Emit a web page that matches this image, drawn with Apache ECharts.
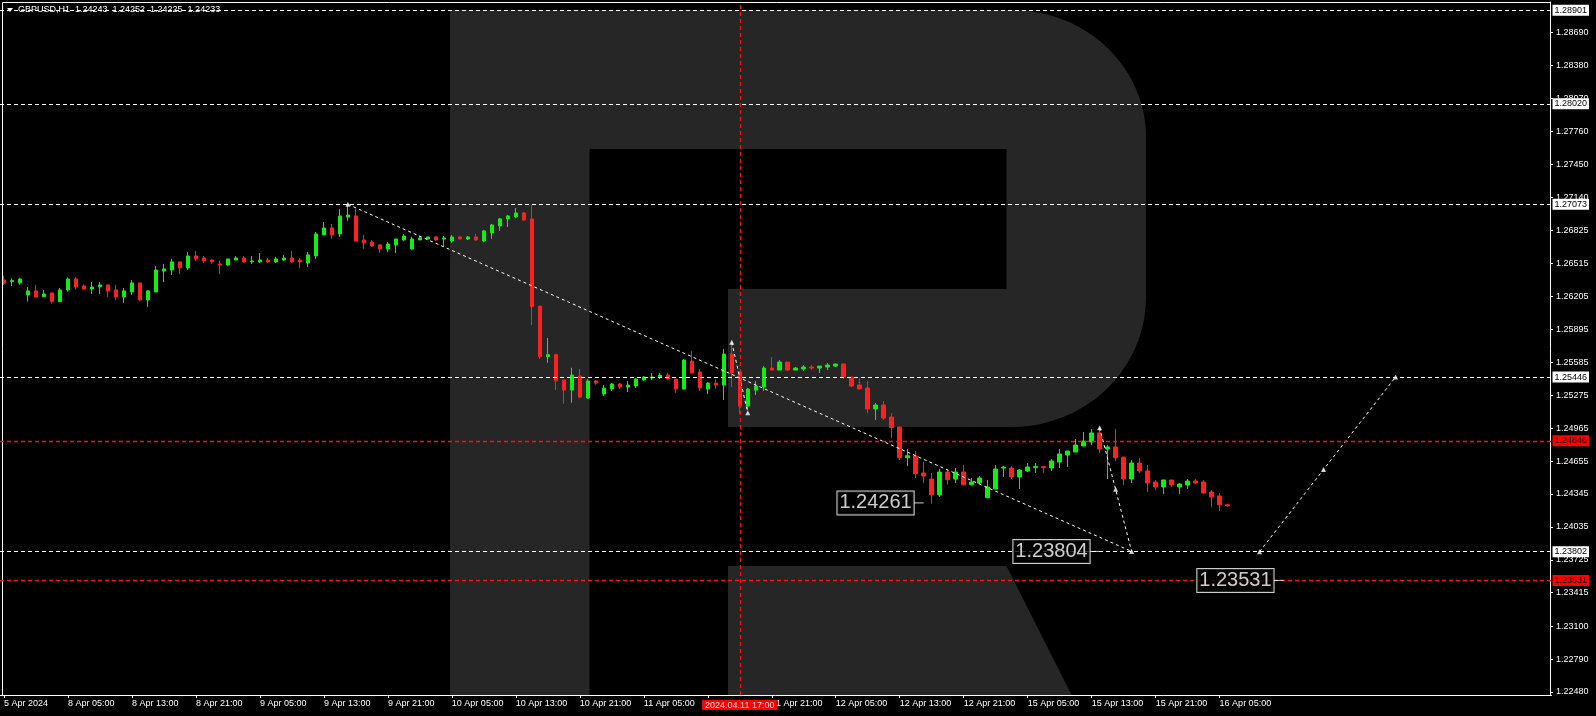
<!DOCTYPE html>
<html><head><meta charset="utf-8">
<script src="https://cdn.jsdelivr.net/npm/echarts@6/dist/echarts.min.js"></script>
<style>html,body{margin:0;padding:0;background:#000;}#c{width:1596px;height:716px;}</style>
</head><body><div id="c"></div>
<script>
// ---------- data ----------
const titleText = 'GBPUSD,H1  1.24243  1.24252  1.24225  1.24233';
const timeLabels = ['5 Apr 2024','8 Apr 05:00','8 Apr 13:00','8 Apr 21:00','9 Apr 05:00','9 Apr 13:00','9 Apr 21:00','10 Apr 05:00','10 Apr 13:00','10 Apr 21:00','11 Apr 05:00','11 Apr 13:00','11 Apr 21:00','12 Apr 05:00','12 Apr 13:00','12 Apr 21:00','15 Apr 05:00','15 Apr 13:00','15 Apr 21:00','16 Apr 05:00'];
const labelStep = 8;
const totalSlots = 194;
// [open, high, low, close] hourly bars
const ohlc = [
[1.26361,1.26399,1.26314,1.26330],[1.26345,1.26377,1.26304,1.26355],[1.26333,1.26380,1.26317,1.26370],[1.26220,1.26295,1.26157,1.26258],
[1.26258,1.26314,1.26191,1.26201],[1.26204,1.26267,1.26198,1.26229],[1.26239,1.26242,1.26138,1.26157],[1.26157,1.26286,1.26151,1.26267],
[1.26267,1.26386,1.26251,1.26370],[1.26370,1.26386,1.26270,1.26295],[1.26304,1.26320,1.26267,1.26276],[1.26276,1.26342,1.26229,1.26295],
[1.26298,1.26342,1.26229,1.26314],[1.26314,1.26314,1.26201,1.26258],[1.26267,1.26314,1.26173,1.26201],[1.26201,1.26286,1.26144,1.26258],
[1.26248,1.26361,1.26220,1.26333],[1.26333,1.26333,1.26163,1.26173],[1.26173,1.26267,1.26107,1.26258],[1.26248,1.26493,1.26248,1.26455],
[1.26446,1.26512,1.26342,1.26465],[1.26455,1.26559,1.26408,1.26531],[1.26531,1.26531,1.26417,1.26474],[1.26474,1.26625,1.26455,1.26587],
[1.26587,1.26634,1.26540,1.26559],[1.26568,1.26587,1.26521,1.26540],[1.26549,1.26559,1.26512,1.26531],[1.26512,1.26540,1.26417,1.26502],
[1.26502,1.26559,1.26493,1.26559],[1.26549,1.26587,1.26549,1.26568],[1.26568,1.26587,1.26521,1.26531],[1.26531,1.26587,1.26512,1.26540],
[1.26531,1.26615,1.26521,1.26549],[1.26549,1.26568,1.26521,1.26531],[1.26531,1.26578,1.26521,1.26559],[1.26549,1.26597,1.26540,1.26568],
[1.26568,1.26634,1.26521,1.26531],[1.26549,1.26568,1.26474,1.26531],[1.26521,1.26625,1.26483,1.26597],[1.26587,1.26813,1.26559,1.26794],
[1.26785,1.26907,1.26785,1.26851],[1.26851,1.26889,1.26747,1.26785],[1.26794,1.27030,1.26766,1.26964],[1.26954,1.27073,1.26917,1.26973],
[1.26964,1.27030,1.26719,1.26728],[1.26738,1.26785,1.26653,1.26710],[1.26719,1.26738,1.26672,1.26681],[1.26691,1.26700,1.26615,1.26653],
[1.26653,1.26719,1.26625,1.26700],[1.26691,1.26747,1.26615,1.26747],[1.26738,1.26794,1.26728,1.26775],[1.26653,1.26766,1.26644,1.26747],
[1.26738,1.26775,1.26738,1.26757],[1.26747,1.26766,1.26747,1.26766],[1.26766,1.26775,1.26728,1.26738],[1.26747,1.26775,1.26681,1.26757],
[1.26728,1.26785,1.26710,1.26766],[1.26766,1.26775,1.26747,1.26747],[1.26747,1.26775,1.26738,1.26766],[1.26766,1.26794,1.26728,1.26738],
[1.26728,1.26832,1.26719,1.26823],[1.26804,1.26889,1.26747,1.26879],[1.26870,1.26945,1.26823,1.26936],[1.26936,1.26973,1.26860,1.26964],
[1.26954,1.27039,1.26945,1.26992],[1.26992,1.27002,1.26917,1.26926],[1.26935,1.27067,1.25936,1.26109],[1.26115,1.26115,1.25616,1.25638],
[1.25638,1.25814,1.25581,1.25657],[1.25657,1.25666,1.25324,1.25412],[1.25418,1.25418,1.25195,1.25324],[1.25324,1.25534,1.25205,1.25465],
[1.25456,1.25522,1.25246,1.25258],[1.25249,1.25428,1.25239,1.25409],[1.25409,1.25421,1.25374,1.25390],[1.25286,1.25371,1.25268,1.25343],
[1.25334,1.25390,1.25315,1.25381],[1.25381,1.25390,1.25334,1.25352],[1.25352,1.25409,1.25305,1.25371],[1.25362,1.25437,1.25343,1.25428],
[1.25418,1.25456,1.25409,1.25447],[1.25437,1.25484,1.25418,1.25447],[1.25447,1.25484,1.25428,1.25465],[1.25465,1.25484,1.25418,1.25428],
[1.25428,1.25428,1.25296,1.25334],[1.25334,1.25616,1.25334,1.25607],[1.25597,1.25691,1.25484,1.25484],[1.25494,1.25522,1.25315,1.25343],
[1.25334,1.25399,1.25286,1.25390],[1.25390,1.25428,1.25334,1.25371],[1.25371,1.25710,1.25230,1.25663],[1.25663,1.25767,1.25352,1.25484],
[1.25494,1.25503,1.25098,1.25173],[1.25173,1.25343,1.25136,1.25334],[1.25324,1.25409,1.25277,1.25362],[1.25352,1.25550,1.25315,1.25531],
[1.25531,1.25635,1.25512,1.25512],[1.25512,1.25607,1.25512,1.25588],[1.25588,1.25588,1.25503,1.25512],[1.25512,1.25541,1.25512,1.25531],
[1.25522,1.25559,1.25503,1.25541],[1.25541,1.25559,1.25512,1.25531],[1.25531,1.25550,1.25484,1.25550],[1.25541,1.25578,1.25512,1.25559],
[1.25550,1.25569,1.25541,1.25569],[1.25569,1.25569,1.25428,1.25447],[1.25447,1.25447,1.25352,1.25362],[1.25371,1.25437,1.25334,1.25334],
[1.25343,1.25409,1.25105,1.25146],[1.25146,1.25202,1.25042,1.25183],[1.25183,1.25221,1.25041,1.25060],[1.25070,1.25108,1.24872,1.24970],
[1.24976,1.24976,1.24665,1.24687],[1.24687,1.24769,1.24609,1.24706],[1.24703,1.24750,1.24496,1.24536],[1.24543,1.24646,1.24448,1.24514],
[1.24486,1.24543,1.24254,1.24339],[1.24336,1.24580,1.24317,1.24552],[1.24552,1.24571,1.24433,1.24480],[1.24486,1.24590,1.24448,1.24552],
[1.24552,1.24618,1.24433,1.24433],[1.24433,1.24496,1.24423,1.24458],[1.24448,1.24514,1.24439,1.24496],[1.24310,1.24477,1.24310,1.24411],
[1.24392,1.24618,1.24392,1.24580],[1.24589,1.24609,1.24505,1.24599],[1.24590,1.24609,1.24486,1.24505],[1.24505,1.24580,1.24392,1.24571],
[1.24561,1.24637,1.24552,1.24599],[1.24593,1.24637,1.24543,1.24603],[1.24603,1.24609,1.24543,1.24593],[1.24590,1.24675,1.24561,1.24656],
[1.24646,1.24769,1.24590,1.24722],[1.24712,1.24750,1.24599,1.24750],[1.24740,1.24863,1.24740,1.24806],[1.24797,1.24929,1.24797,1.24844],
[1.24835,1.24957,1.24806,1.24920],[1.24920,1.24957,1.24731,1.24769],[1.24769,1.24806,1.24486,1.24788],[1.24788,1.24957,1.24656,1.24687],
[1.24693,1.24693,1.24430,1.24486],[1.24486,1.24665,1.24448,1.24637],[1.24637,1.24684,1.24543,1.24562],[1.24562,1.24618,1.24364,1.24448],
[1.24458,1.24477,1.24383,1.24411],[1.24411,1.24477,1.24345,1.24477],[1.24477,1.24477,1.24411,1.24430],[1.24411,1.24448,1.24345,1.24439],
[1.24430,1.24486,1.24392,1.24467],[1.24467,1.24486,1.24439,1.24448],[1.24458,1.24477,1.24354,1.24354],[1.24364,1.24383,1.24223,1.24317],
[1.24326,1.24354,1.24185,1.24243],[1.24243,1.24252,1.24225,1.24233]
];
const yTicks = [1.28690,1.28380,1.28070,1.27760,1.27450,1.27140,1.26825,1.26515,1.26205,1.25895,1.25585,1.25275,1.24965,1.24655,1.24345,1.24035,1.23725,1.23415,1.23100,1.22790,1.22480];
const yMin = 1.224517, yMax = 1.28979;
const whiteLevels = [1.28901, 1.28020, 1.27073, 1.25446, 1.23802];
const redLevels = [1.24846, 1.23531];
const lastPrice = 1.24233;
const cursorBar = 92;
const cursorLabel = '2024.04.11 17:00';
const forecastA = [[43,1.27073],[141,1.23804]];
const forecastB = [[91,1.25774],[93,1.25111]];
const forecastC = [[137,1.24970],[141,1.23804]];
const forecastD = [[157,1.23802],[174,1.25446]];
const arrowPoints = [[43,1.27073],[91,1.25774],[93,1.25111],[137,1.24970],[139,1.24389],[141,1.23804],[157,1.23802],[165,1.24576],[174,1.25446]];
const priceNotes = [[115,1.24261],[137,1.23804],[160,1.23531]];

// ---------- chart ----------
const UP = '#10f010', DOWN = '#ff2020';
const categories = Array.from({length: totalSlots}, (_, i) => String(i));
const candleData = ohlc.map(r => [r[0], r[3], r[2], r[1]]);
const showLbl = (i) => i % labelStep === 0 && i / labelStep < timeLabels.length;
const FONT = "'Liberation Sans', Arial, sans-serif";

// watermark outline (decorative "R" logo)
function arcPts(cx, cy, rx, ry, a0, a1, n) {
  const pts = [];
  for (let k = 0; k <= n; k++) {
    const a = a0 + (a1 - a0) * k / n;
    pts.push([cx + rx * Math.cos(a), cy + ry * Math.sin(a)]);
  }
  return pts;
}
const logoPts = [[450,10],[1012,10]]
  .concat(arcPts(1012, 137, 134, 127, -Math.PI / 2, 0, 24))
  .concat(arcPts(1012, 297, 134, 130, 0, Math.PI / 2, 24))
  .concat([[728,427],[728,289],[1006.5,289],[1006.5,149],[589.5,149],[589.5,695],[450,695]]);

function levelLine(v, bg) {
  return {
    yAxis: v,
    lineStyle: {color: bg === '#fff' ? '#ffffff' : '#ff1010', type: [4, 3], width: bg === '#fff' ? 1 : 1.3, opacity: 1},
    label: {show: true, position: 'end', distance: 1, formatter: v.toFixed(5),
      backgroundColor: bg, color: '#000', fontSize: 9, fontFamily: FONT, padding: [1, 2, 0, 2], lineHeight: 10}
  };
}
const markData = whiteLevels.map(v => levelLine(v, '#fff'))
  .concat(redLevels.map(v => levelLine(v, '#ff0000')))
  .concat([{
    yAxis: lastPrice, lineStyle: {width: 0, opacity: 0},
    label: {show: true, position: 'end', distance: 1, formatter: lastPrice.toFixed(5),
      backgroundColor: '#fff', color: '#000', fontSize: 9, fontFamily: FONT, padding: [1, 2, 0, 2], lineHeight: 10}
  }, {
    xAxis: cursorBar, lineStyle: {color: '#ff1010', type: [4, 3], width: 1.3, opacity: 1},
    label: {show: true, position: 'start', distance: 5, formatter: cursorLabel,
      backgroundColor: '#ff0000', color: '#ffd8d8', fontSize: 9, fontFamily: FONT, padding: [1, 3, 0, 3], lineHeight: 9}
  }]);

const dotted = {color: '#ffffff', width: 1, type: [3, 3]};
function fLine(d) {
  return {type: 'line', data: d, showSymbol: false, symbol: 'none', lineStyle: dotted, z: 4, silent: true, animation: false};
}

const chart = echarts.init(document.getElementById('c'), null, {renderer: 'canvas'});
chart.setOption({
  backgroundColor: '#000',
  animation: false,
  grid: {left: -0.5, right: 44.5, top: 2, bottom: 21, containLabel: false},
  xAxis: {
    type: 'category', data: categories, boundaryGap: true,
    axisLine: {show: true, lineStyle: {color: '#fff', width: 1}},
    axisTick: {show: true, alignWithLabel: true, interval: showLbl, length: 3, lineStyle: {color: '#fff'}},
    axisLabel: {interval: showLbl, formatter: (v, i) => timeLabels[Math.round(i / labelStep)] || '',
      align: 'left', color: '#fff', fontSize: 9, fontFamily: FONT, margin: 4},
    splitLine: {show: false}
  },
  yAxis: {
    type: 'value', position: 'right', min: yMin, max: yMax, offset: -1.5,
    axisLine: {show: true, lineStyle: {color: '#fff', width: 1}},
    axisTick: {show: true, length: 3, customValues: yTicks, lineStyle: {color: '#fff'}},
    axisLabel: {customValues: yTicks, formatter: v => v.toFixed(5), color: '#fff', fontSize: 9, fontFamily: FONT, margin: 6},
    splitLine: {show: false}
  },
  graphic: [
    {type: 'polygon', z: -10, silent: true, shape: {points: logoPts}, style: {fill: '#262626'}},
    {type: 'polygon', z: -10, silent: true, shape: {points: [[728,566],[1006.5,566],[1071.6,695],[728,695]]}, style: {fill: '#262626'}},
    {type: 'line', z: 5, silent: true, shape: {x1: 2.5, y1: 2.5, x2: 1550, y2: 2.5}, style: {stroke: '#fff', lineWidth: 1}},
    {type: 'line', z: 5, silent: true, shape: {x1: 2.5, y1: 2.5, x2: 2.5, y2: 695}, style: {stroke: '#fff', lineWidth: 1}},
    {type: 'polygon', z: 5, silent: true, shape: {points: [[7,8],[13,8],[10,12]]}, style: {fill: '#fff'}},
    {type: 'text', z: 5, silent: true, x: 18, y: 10, style: {text: titleText, fill: '#fff', font: "9px 'Liberation Sans', Arial, sans-serif", textVerticalAlign: 'middle'}}
  ],
  series: [
    {
      type: 'candlestick', data: candleData, barWidth: 4, clip: false, z: 3,
      itemStyle: {color: UP, color0: DOWN, borderColor: UP, borderColor0: DOWN, borderWidth: 1},
      markLine: {symbol: 'none', silent: true, animation: false, precision: 5, data: markData}
    },
    fLine(forecastA), fLine(forecastB), fLine(forecastC), fLine(forecastD),
    {type: 'scatter', data: arrowPoints, symbol: 'triangle', symbolSize: 5, itemStyle: {color: '#fff'}, z: 5, silent: true},
    {type: 'scatter', data: priceNotes, symbol: 'rect', symbolSize: [10, 1], symbolOffset: [-5, 0],
     itemStyle: {color: '#fff'}, z: 6, silent: true,
     label: {show: true, position: 'left', distance: 0, formatter: p => p.value[1].toFixed(5),
       color: '#ffffff', fontSize: 20, fontFamily: "'Liberation Sans', sans-serif",
       backgroundColor: '#000', borderColor: '#ffffff', borderWidth: 1, padding: [2, 2, 1, 2], lineHeight: 20}}
  ]
});
</script>
</body></html>
